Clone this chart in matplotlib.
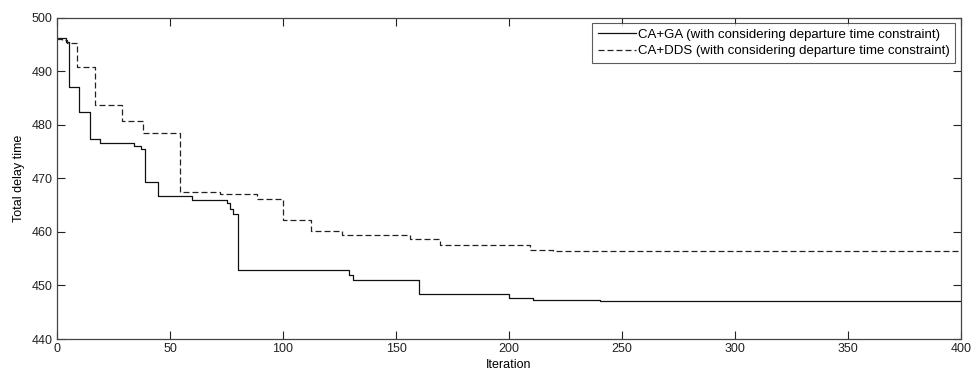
import numpy as np
import matplotlib
matplotlib.use("Agg")
import matplotlib.pyplot as plt

# values (step curves, value holds from each iteration on)
ga_iter = [0, 4, 5.5, 9.7, 14.6, 19, 34, 37, 39, 44.8, 59.6, 75, 76.5, 78, 80.2, 129, 131, 160.2, 200.1, 210.5, 240.3, 400]
ga_val = [496.1, 495.5, 487.0, 482.3, 477.4, 476.6, 476.0, 475.5, 469.3, 466.6, 465.9, 465.3, 464.2, 463.3,
          452.8, 452.0, 451.1, 448.4, 447.6, 447.3, 447.1, 447.1]

dds_iter = [0, 2, 4.3, 9, 16.8, 28.6, 38.2, 54.5, 72, 88.3, 100.1, 112.6, 125.9, 156.2, 169.5, 209.3, 219.6, 400]
dds_val = [496.0, 495.8, 495.2, 490.8, 483.7, 480.7, 478.5, 467.4, 467.0, 466.1, 462.2, 460.2, 459.4,
           458.6, 457.6, 456.6, 456.4, 456.4]

labels = ["CA+GA (with considering departure time constraint)",
          "CA+DDS (with considering departure time constraint)"]
xticks = [0, 50, 100, 150, 200, 250, 300, 350, 400]
yticks = [440, 450, 460, 470, 480, 490, 500]

plt.rcParams['font.family'] = ['Liberation Sans', 'DejaVu Sans']
fs = 9

fig = plt.figure(figsize=(9.73, 3.72), dpi=100)
ax = fig.add_axes([57 / 973, 33 / 372, 904 / 973, 321.5 / 372])

ax.plot(ga_iter, ga_val, drawstyle='steps-post', color='#111111', linewidth=0.9, label=labels[0])
ax.plot(dds_iter, dds_val, drawstyle='steps-post', color='#222222', linewidth=0.9,
        linestyle=(0, (4.8, 2.4)), label=labels[1])

ax.set_xlim(0, 400)
ax.set_ylim(440, 500)
ax.set_xticks(xticks)
ax.set_yticks(yticks)
ax.tick_params(direction='in', top=True, right=True, length=6, width=0.8,
               labelsize=fs, colors='#222222', pad=3)
for s in ax.spines.values():
    s.set_color('#444444')
    s.set_linewidth(0.9)

ax.set_xlabel('Iteration', fontsize=fs, labelpad=3)
ax.set_ylabel('Total delay time', fontsize=fs, labelpad=5)

leg = ax.legend(loc='upper right', bbox_to_anchor=(955 / 973, (372 - 23) / 372),
                bbox_transform=fig.transFigure, fontsize=9.5, frameon=True, fancybox=False,
                handlelength=2.9, handletextpad=0.15, borderpad=0.4, labelspacing=0.35,
                borderaxespad=0)
leg.get_frame().set_edgecolor('#333333')
leg.get_frame().set_linewidth(0.8)

fig.savefig('out.png', dpi=100)
